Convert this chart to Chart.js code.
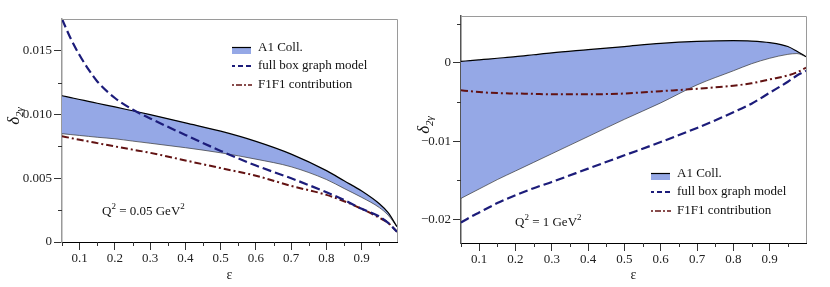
<!DOCTYPE html>
<html>
<head>
<meta charset="utf-8">
<script src="https://cdn.jsdelivr.net/npm/chart.js@4.4.0/dist/chart.umd.min.js"></script>
<style>
  html, body { margin: 0; padding: 0; background: #fff; }
  #wrap { position: relative; width: 830px; height: 287px; }
  .panel { position: absolute; top: 0; width: 415px; height: 287px; }
</style>
</head>
<body>
<div id="wrap">
  <div class="panel" style="left:0"><canvas id="chartLeft" width="415" height="287"></canvas></div>
  <div class="panel" style="left:415px"><canvas id="chartRight" width="415" height="287"></canvas></div>
</div>
<script>
// epsilon grid shared by all curves
const eps = [0.05, 0.075, 0.1, 0.125, 0.15, 0.2, 0.25, 0.3, 0.4, 0.5, 0.6, 0.7, 0.8, 0.85, 0.9, 0.95, 0.975, 1.0];

// Q^2 = 0.05 GeV^2
const leftA1Upper = [0.01148, 0.01133, 0.01118, 0.01104, 0.01089, 0.0106, 0.0103, 0.0100, 0.00935, 0.0087, 0.0079, 0.0069, 0.0056, 0.0048, 0.0040, 0.0030, 0.0023, 0.0012];
const leftA1Lower = [0.0085, 0.00843, 0.00836, 0.00829, 0.00822, 0.0081, 0.00792, 0.00775, 0.0074, 0.0070, 0.0065, 0.0059, 0.0049, 0.0042, 0.0035, 0.0027, 0.0021, 0.0012];
const leftFullBox = [0.0175, 0.01595, 0.01465, 0.01355, 0.0126, 0.0113, 0.0104, 0.0097, 0.0084, 0.00715, 0.0060, 0.0050, 0.0039, 0.0033, 0.0026, 0.0020, 0.0015, 0.0008];
const leftF1F1 = [0.0083, 0.00816, 0.00802, 0.00789, 0.00776, 0.0075, 0.00725, 0.0070, 0.0064, 0.0058, 0.0052, 0.0044, 0.0037, 0.0032, 0.0026, 0.0019, 0.0015, 0.0008];

// Q^2 = 1 GeV^2
const rightA1Upper = [0.0002, 0.0003, 0.0004, 0.0005, 0.0006, 0.0008, 0.00105, 0.0013, 0.0017, 0.0021, 0.0025, 0.00275, 0.00285, 0.0028, 0.0026, 0.0021, 0.0015, 0.0008];
const rightA1Lower = [-0.0173, -0.0167, -0.0161, -0.0155, -0.0149, -0.0138, -0.0127, -0.0116, -0.0094, -0.0072, -0.0051, -0.0028, -0.0010, -0.0001, 0.0006, 0.0011, 0.0012, 0.0008];
const rightFullBox = [-0.0204, -0.0197, -0.0191, -0.0185, -0.0179, -0.0169, -0.0160, -0.0152, -0.0135, -0.0118, -0.0101, -0.0083, -0.0063, -0.0052, -0.0038, -0.0024, -0.0016, -0.0010];
const rightF1F1 = [-0.0035, -0.0036, -0.0037, -0.0038, -0.00385, -0.0039, -0.00395, -0.0040, -0.0040, -0.0039, -0.0036, -0.0033, -0.0029, -0.0026, -0.0021, -0.0016, -0.0012, -0.0006];

// ticks
const xMajor = [0.1, 0.2, 0.3, 0.4, 0.5, 0.6, 0.7, 0.8, 0.9];
const xTickLabels = ['0.1', '0.2', '0.3', '0.4', '0.5', '0.6', '0.7', '0.8', '0.9'];
const xMinor = [0.05, 0.15, 0.25, 0.35, 0.45, 0.55, 0.65, 0.75, 0.85, 0.95];
const leftYMajor = [0, 0.005, 0.01, 0.015];
const leftYLabels = ['0', '0.005', '0.010', '0.015'];
const leftYMinor = [0.0025, 0.0075, 0.0125];
const rightYMajor = [-0.02, -0.01, 0];
const rightYLabels = ['\u22120.02', '\u22120.01', '0'];
const rightYMinor = [-0.015, -0.005, 0.005];

const legendLabels = ['A1 Coll.', 'full box graph model', 'F1F1 contribution'];

const FONT = '"Liberation Serif", "Times New Roman", serif';
const bandFill = 'rgb(149,168,230)';
const navy = 'rgb(28,28,122)';
const maroon = 'rgb(98,18,18)';
const dashLong = [9, 4];
const dashDot = [7, 3, 2, 3];

const pts = arr => eps.map((e, i) => ({ x: e, y: arr[i] }));

// frame, minor ticks, y title, legend and Q^2 note
const decor = {
  id: 'decor',
  afterDraw(chart, args, o) {
    const ctx = chart.ctx, a = chart.chartArea;
    const xs = chart.scales.x, ys = chart.scales.y;
    ctx.save();
    // top + right frame
    ctx.strokeStyle = '#9a9a9a';
    ctx.lineWidth = 1;
    ctx.beginPath();
    ctx.moveTo(a.left, a.top + 0.5);
    ctx.lineTo(a.right + 0.5, a.top + 0.5);
    ctx.lineTo(a.right + 0.5, a.bottom);
    ctx.stroke();
    // minor ticks
    ctx.strokeStyle = '#333';
    ctx.beginPath();
    xMinor.forEach(v => {
      const px = Math.round(xs.getPixelForValue(v)) + 0.5;
      ctx.moveTo(px, a.bottom); ctx.lineTo(px, a.bottom + 4);
    });
    o.yMinor.forEach(v => {
      const py = Math.round(ys.getPixelForValue(v)) + 0.5;
      ctx.moveTo(a.left - 4, py); ctx.lineTo(a.left, py);
    });
    ctx.stroke();

    // y axis title  delta_{2 gamma}
    ctx.save();
    ctx.translate(o.yTitle[0], o.yTitle[1]);
    ctx.rotate(-Math.PI / 2);
    ctx.fillStyle = '#111';
    ctx.textBaseline = 'alphabetic';
    ctx.font = 'italic 17px ' + FONT;
    const w1 = ctx.measureText('\u03b4').width;
    ctx.font = 'italic 11px ' + FONT;
    const w2 = ctx.measureText('2\u03b3').width;
    const s = -(w1 + w2) / 2;
    ctx.font = 'italic 17px ' + FONT;
    ctx.fillText('\u03b4', s, 5);
    ctx.font = 'italic 11px ' + FONT;
    ctx.fillText('2\u03b3', s + w1, 9);
    ctx.restore();

    // Q^2 note
    ctx.fillStyle = '#111';
    ctx.textBaseline = 'alphabetic';
    let qx = o.note[0];
    const qy = o.note[1];
    const parts = [['Q', 13, 0], ['2', 9, -6], [o.noteText, 13, 0], ['2', 9, -6]];
    parts.forEach(p => {
      ctx.font = p[1] + 'px ' + FONT;
      ctx.fillText(p[0], qx, qy + p[2]);
      qx += ctx.measureText(p[0]).width;
    });

    // legend
    const lx = o.legend[0], ly = o.legend[1], gap = 19;
    ctx.font = '13px ' + FONT;
    ctx.textBaseline = 'middle';
    // A1 Coll. swatch
    ctx.fillStyle = bandFill;
    ctx.fillRect(lx, ly + 1, 19, 6);
    ctx.strokeStyle = '#000';
    ctx.lineWidth = 1.2;
    ctx.beginPath(); ctx.moveTo(lx, ly + 0.5); ctx.lineTo(lx + 19, ly + 0.5); ctx.stroke();
    // dashed
    ctx.strokeStyle = navy; ctx.lineWidth = 2;
    ctx.setLineDash([5, 3]); ctx.lineDashOffset = 2;
    ctx.beginPath(); ctx.moveTo(lx, ly + gap); ctx.lineTo(lx + 20, ly + gap); ctx.stroke();
    // dash-dot
    ctx.strokeStyle = maroon; ctx.lineWidth = 1.6;
    ctx.setLineDash([2, 2, 6, 2]); ctx.lineDashOffset = 0;
    ctx.beginPath(); ctx.moveTo(lx, ly + 2 * gap); ctx.lineTo(lx + 20, ly + 2 * gap); ctx.stroke();
    ctx.setLineDash([]);
    ctx.fillStyle = '#111';
    legendLabels.forEach((t, i) => ctx.fillText(t, lx + 26, ly + i * gap + (i === 0 ? 1 : 0)));
    ctx.restore();
  }
};

function makeChart(id, c) {
  return new Chart(document.getElementById(id), {
    type: 'line',
    data: {
      datasets: [
        { label: 'full box graph model', data: pts(c.full), borderColor: navy, borderWidth: 2.2,
          borderDash: dashLong, fill: false, order: 0 },
        { label: 'F1F1 contribution', data: pts(c.f1), borderColor: maroon, borderWidth: 2,
          borderDash: dashDot, fill: false, order: 1 },
        { label: 'A1 Coll.', data: pts(c.upper), borderColor: '#000', borderWidth: 1.2,
          backgroundColor: bandFill, fill: '+1', order: 2 },
        { label: 'A1 lower', data: pts(c.lower), borderColor: '#333', borderWidth: 0.7,
          fill: false, order: 3 }
      ]
    },
    options: {
      responsive: false,
      animation: false,
      events: [],
      elements: { point: { radius: 0 }, line: { cubicInterpolationMode: 'monotone' } },
      layout: { padding: { left: 0, right: c.padRight, top: c.padTop, bottom: 0 } },
      plugins: {
        legend: { display: false },
        tooltip: { enabled: false },
        filler: { drawTime: 'beforeDatasetsDraw' },
        decor: c.decor
      },
      scales: {
        x: {
          type: 'linear', min: 0.05, max: 1.0,
          afterBuildTicks: s => { s.ticks = xMajor.map(v => ({ value: v })); },
          afterFit: s => { s.height = c.xHeight; },
          border: { color: '#000', width: 1 },
          grid: { drawOnChartArea: false, drawTicks: true, tickLength: 8, tickColor: '#333' },
          ticks: { autoSkip: false, maxRotation: 0, padding: 1, color: '#222',
            font: { family: FONT, size: 13 }, callback: (v, i) => xTickLabels[i] },
          title: { display: true, text: '\u03b5', color: '#222', padding: { top: 0, bottom: 3 },
            font: { family: FONT, size: 14 } }
        },
        y: {
          type: 'linear', min: c.yMin, max: c.yMax,
          afterBuildTicks: s => { s.ticks = c.yMajor.map(v => ({ value: v })); },
          afterFit: s => { s.width = c.yWidth; },
          border: { color: c.yBorder, width: 1.5 },
          grid: { drawOnChartArea: false, drawTicks: true, tickLength: 8, tickColor: '#333' },
          ticks: { autoSkip: false, padding: 2, color: '#222',
            font: { family: FONT, size: 13 }, callback: (v, i) => c.yLabels[i] }
        }
      }
    },
    plugins: [decor]
  });
}

makeChart('chartLeft', {
  full: leftFullBox, f1: leftF1F1, upper: leftA1Upper, lower: leftA1Lower,
  yMin: 0, yMax: 0.0175, yMajor: leftYMajor, yLabels: leftYLabels,
  padRight: 18, padTop: 19, xHeight: 45, yWidth: 62, yBorder: '#999',
  decor: { yMinor: leftYMinor, yTitle: [14, 116], note: [102, 215], noteText: ' = 0.05 GeV',
    legend: [232, 47] }
});

makeChart('chartRight', {
  full: rightFullBox, f1: rightF1F1, upper: rightA1Upper, lower: rightA1Lower,
  yMin: -0.023, yMax: 0.006, yMajor: rightYMajor, yLabels: rightYLabels,
  padRight: 24, padTop: 16, xHeight: 44, yWidth: 46, yBorder: '#555',
  decor: { yMinor: rightYMinor, yTitle: [9, 125], note: [100, 226], noteText: ' = 1 GeV',
    legend: [236, 173] }
});
</script>
</body>
</html>
